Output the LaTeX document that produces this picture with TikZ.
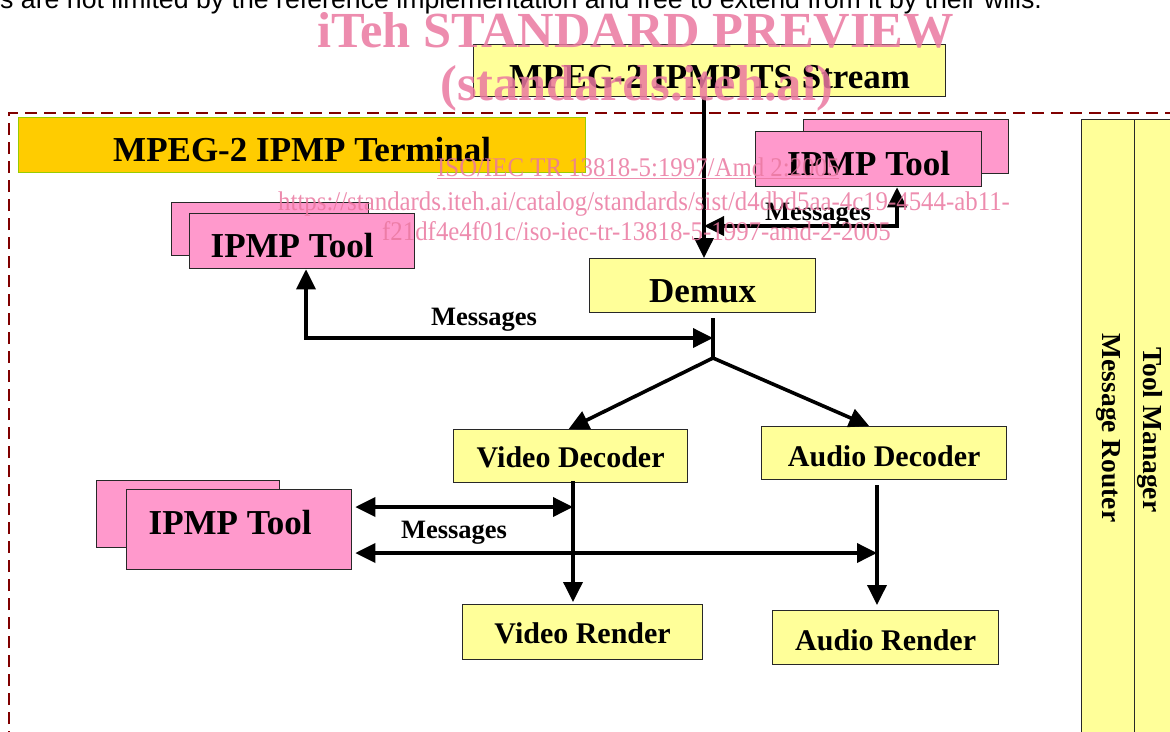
\documentclass[tikz,border=0pt]{standalone}
\usepackage{fontspec}
\setmainfont{Liberation Serif}
\newfontfamily\arialfont{Liberation Sans}
\usetikzlibrary{arrows.meta}
\definecolor{ylw}{RGB}{255,255,153}
\definecolor{pnk}{RGB}{255,153,204}
\definecolor{term}{RGB}{255,204,0}
\definecolor{termline}{RGB}{153,204,0}
\definecolor{boxline}{RGB}{40,40,40}
\definecolor{dred}{RGB}{128,0,0}
\definecolor{wmark}{RGB}{234,120,160}
\begin{document}
\begin{tikzpicture}[x=1pt,y=-1pt,
  box/.style={draw=boxline, line width=1.3pt, inner xsep=0pt, inner ysep=0pt, anchor=north west},
  ybox/.style={box, fill=ylw},
  pbox/.style={box, fill=pnk},
  bigtxt/.style={font=\fontsize{35}{40}\selectfont\bfseries},
  midtxt/.style={font=\fontsize{30}{34}\selectfont\bfseries},
  lbl/.style={font=\fontsize{26.5}{30}\selectfont\bfseries, inner sep=0pt, anchor=base},
  vlbl/.style={font=\fontsize{27.5}{30}\selectfont\bfseries, inner sep=0pt, rotate=-90},
  wm/.style={text=wmark, opacity=0.85, inner sep=0pt, anchor=base west},
  conn/.style={line width=3.6pt},
  tip/.tip={Triangle[length=20pt,width=19pt]},
  arr/.style={conn, -tip},
  dbl/.style={conn, tip-tip},
]
\useasboundingbox (0,0) rectangle (1170,731);
\clip (0,0) rectangle (1170,731);

% top text line (cut from the page above)
\node[anchor=base west, inner sep=0pt, font=\arialfont\fontsize{26.7}{30}\selectfont] (topline) at (0,8.5)
  {s are not limited by the reference implementation and free to extend from it by their wills.};

% terminal frame
\draw[dred, line width=2.5pt, dash pattern=on 12pt off 7pt] (9,800) -- (9,113) -- (1200,113);

% side bars
\node[box, fill=ylw, line width=1pt, minimum width=53pt, minimum height=680pt] (mrouter) at (1081,119) {};
\node[box, fill=ylw, line width=1pt, minimum width=60pt, minimum height=680pt] (tman) at (1134,119) {};
\node[vlbl] (mrT) at (1108,428) {Message Router};
\node[vlbl] (tmT) at (1150,430) {Tool Manager};

% boxes
\node[ybox, bigtxt, minimum width=472pt, text height=44pt, text depth=8pt] (ts) at (473,44) {MPEG-2 IPMP TS Stream};
\node[box, fill=term, draw=termline, bigtxt, minimum width=567pt, text height=44pt, text depth=11pt] (term) at (18,117) {MPEG-2 IPMP Terminal};

\node[pbox, minimum width=197pt, minimum height=53pt] (ltoolB) at (171,202) {};
\node[pbox, bigtxt, minimum width=225pt, text height=44pt, text depth=11pt] (ltool) at (189,213) {IPMP Tool\hspace*{20pt}};

\node[pbox, minimum width=205pt, minimum height=54pt] (rtoolB) at (803,119) {};
\node[pbox, bigtxt, minimum width=226pt, text height=44pt, text depth=11pt] (rtool) at (755,131) {IPMP Tool};

\node[ybox, bigtxt, minimum width=226pt, text height=44pt, text depth=10pt] (demux) at (589,258) {Demux};

\node[ybox, midtxt, minimum width=234pt, text height=38pt, text depth=15pt] (vdec) at (453,429) {Video Decoder};
\node[ybox, midtxt, minimum width=245pt, text height=40pt, text depth=13pt] (adec) at (761,426) {Audio Decoder};
\node[ybox, midtxt, minimum width=240pt, text height=39pt, text depth=16pt] (vren) at (462,604) {Video Render};
\node[ybox, midtxt, minimum width=226pt, text height=40pt, text depth=14pt] (aren) at (772,610) {Audio Render};

\node[pbox, minimum width=183pt, minimum height=67pt] (btoolB) at (96,480) {};
\node[pbox, bigtxt, minimum width=225pt, text height=45pt, text depth=35pt] (btool) at (126,489) {IPMP Tool\hspace*{18pt}};

% junction coordinates
\coordinate (j1) at (704,226);
\coordinate (c1) at (897,226);
\coordinate (c2) at (306,338);
\coordinate (j2) at (713,338);
\coordinate (j3) at (713,358);
\coordinate (v1) at (573,507);
\coordinate (a1) at (877,553);

% connectors
\draw[arr] (ts.south -| j1) -- (demux.north -| j1);
\draw[dbl] (rtool.south -| c1) -- (c1) -- (j1);
\draw[dbl] (ltool.south -| c2) -- (c2) -- (j2);
\draw[conn] ([yshift=-5pt]demux.south -| j2) -- (j3);
\draw[dbl] ([xshift=-2pt]vdec.north) -- (j3) -- ([xshift=-15pt]adec.north);
\draw[arr] ([yshift=2pt]vdec.south -| v1) -- ([yshift=2pt]vren.north -| v1);
\draw[arr] ([yshift=-5pt]adec.south -| a1) -- ([yshift=5pt]aren.north -| a1);
\draw[dbl] ([xshift=3pt]btool.east |- v1) -- (v1);
\draw[dbl] ([xshift=3pt]btool.east |- a1) -- (a1);

% labels
\node[lbl] (m1) at (818,220) {Messages};
\node[lbl] (m2) at (484,325) {Messages};
\node[lbl] (m3) at (454,538) {Messages};

% watermark
\node[wm, font=\fontsize{50.5}{55}\selectfont\bfseries] (wm1) at (317,47) {iTeh STANDARD PREVIEW};
\node[wm, font=\fontsize{50.5}{55}\selectfont\bfseries] (wm2) at (440,100) {(standards.iteh.ai)};
\node[wm, font=\fontsize{27}{30}\selectfont] (wm3) at (437,176) {\scalebox{0.92}[1]{\underline{ISO/IEC TR 13818-5:1997/Amd 2:2005}}};
\node[wm, font=\fontsize{27}{30}\selectfont] (wm4) at (278,210) {\scalebox{0.92}[1]{https://standards.iteh.ai/catalog/standards/sist/d4dbd5aa-4c19-4544-ab11-}};
\node[wm, font=\fontsize{27}{30}\selectfont] (wm5) at (382,240) {\scalebox{0.92}[1]{f21df4e4f01c/iso-iec-tr-13818-5-1997-amd-2-2005}};
\end{tikzpicture}
\end{document}
